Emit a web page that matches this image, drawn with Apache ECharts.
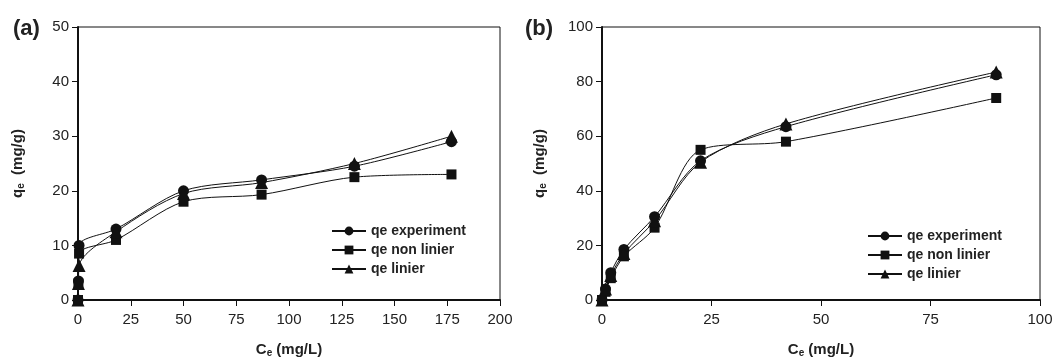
<!DOCTYPE html>
<html>
<head>
<meta charset="utf-8">
<script src="https://cdn.jsdelivr.net/npm/echarts@6/dist/echarts.min.js"></script>
<style>
  html, body { margin: 0; padding: 0; background: #fff; }
  #chart { width: 1058px; height: 363px; }
</style>
</head>
<body>
<div id="chart"></div>
<script>
// panel (a): Ce (mg/L) vs qe (mg/g)
const ceA = [0, 0.2, 0.5, 18, 50, 87, 131, 177]
const expA = [0, 3.5, 10, 13, 20, 22, 24.5, 29]
const nonLinA = [0, 3, 8.5, 11, 18, 19.3, 22.5, 23]
const linA = [0, 3, 6.3, 12.5, 19.5, 21.5, 25, 30]

// panel (b)
const ceB = [0, 0.8, 2, 5, 12, 22.5, 42, 90]
const expB = [0, 4, 10, 18.5, 30.5, 51, 63.5, 82.5]
const nonLinB = [0, 3, 8, 16, 26.5, 55, 58, 74]
const linB = [0, 4, 9, 17, 29, 50.5, 64.5, 83.5]

const names = ['qe experiment', 'qe non linier', 'qe linier']
const symbols = ['circle', 'rect', 'triangle']
const symbolSizes = [11, 10, 13]

const pair = (xs, ys) => xs.map((x, i) => [x, ys[i]])

const chart = echarts.init(document.getElementById('chart'))

const tickLabel = { color: '#222', fontSize: 15, fontFamily: 'Liberation Sans' }
const axisName = {
  color: '#222', fontSize: 15, fontWeight: 'bold', fontFamily: 'Liberation Sans',
  rich: { sub: { fontSize: 10, fontWeight: 'bold', color: '#222', verticalAlign: 'bottom', padding: [6, 0, 0, 0] } }
}

const makeX = (gridIndex, max, interval) => ({
  type: 'value', gridIndex, min: 0, max, interval,
  name: 'C{sub|e} (mg/L)', nameLocation: 'middle', nameGap: 42, nameTextStyle: axisName,
  axisLine: { lineStyle: { color: '#111', width: 2 } },
  axisTick: { inside: false, length: 6, lineStyle: { color: '#111' } },
  axisLabel: Object.assign({ margin: 12 }, tickLabel),
  splitLine: { show: false }
})

const makeY = (gridIndex, max, interval) => ({
  type: 'value', gridIndex, min: 0, max, interval,
  name: 'q{sub|e}  (mg/g)', nameLocation: 'middle', nameGap: gridIndex === 0 ? 52 : 54, nameRotate: 90,
  nameTextStyle: axisName,
  axisLine: { show: true, lineStyle: { color: '#111', width: 2 } },
  axisTick: { show: true, inside: false, length: 6, lineStyle: { color: '#111' } },
  axisLabel: Object.assign({ margin: 9 }, tickLabel),
  splitLine: { show: false }
})

const makeSeries = (idx, data, k) => ({
  name: names[k], type: 'line', xAxisIndex: idx, yAxisIndex: idx,
  data, smooth: 0.3,
  symbol: symbols[k], symbolSize: symbolSizes[k],
  itemStyle: { color: '#111' },
  lineStyle: { color: '#111', width: 1 }
})

const legendCommon = {
  orient: 'vertical', itemWidth: 34, itemHeight: 11, itemGap: 5,
  textStyle: { color: '#222', fontSize: 14, fontWeight: 'bold', fontFamily: 'Liberation Sans' },
  data: names
}

chart.setOption({
  animation: false,
  backgroundColor: '#fff',
  title: [
    { text: '(a)', left: 8, top: 13, textStyle: { fontSize: 22, fontWeight: 'bold', color: '#222', fontFamily: 'Liberation Sans' } },
    { text: '(b)', left: 520, top: 13, textStyle: { fontSize: 22, fontWeight: 'bold', color: '#222', fontFamily: 'Liberation Sans' } }
  ],
  grid: [
    { left: 78, right: 558, top: 27, bottom: 61, show: true, borderColor: '#111', borderWidth: 1 },
    { left: 602, right: 18, top: 27, bottom: 61, show: true, borderColor: '#111', borderWidth: 1 }
  ],
  xAxis: [makeX(0, 200, 25), makeX(1, 100, 25)],
  yAxis: [makeY(0, 50, 10), makeY(1, 100, 20)],
  legend: [
    Object.assign({ left: 326, top: 219 }, legendCommon),
    Object.assign({ left: 862, top: 224 }, legendCommon)
  ],
  series: [
    makeSeries(0, pair(ceA, expA), 0),
    makeSeries(0, pair(ceA, nonLinA), 1),
    makeSeries(0, pair(ceA, linA), 2),
    makeSeries(1, pair(ceB, expB), 0),
    makeSeries(1, pair(ceB, nonLinB), 1),
    makeSeries(1, pair(ceB, linB), 2)
  ]
})
</script>
</body>
</html>
